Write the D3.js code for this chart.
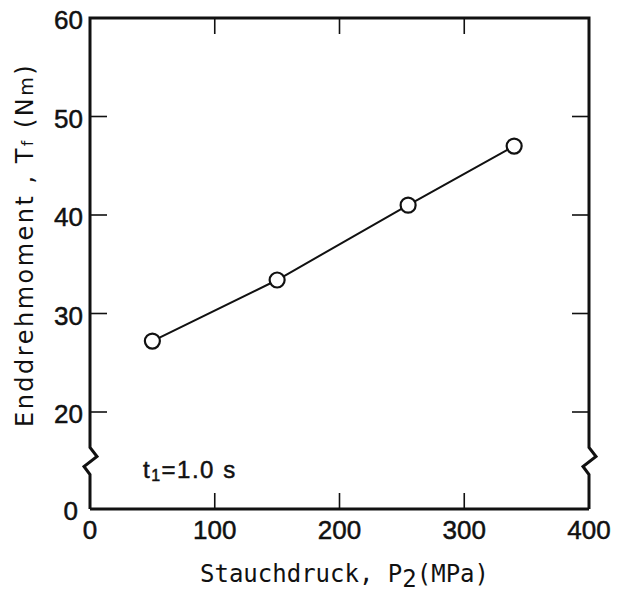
<!DOCTYPE html>
<html>
<head>
<meta charset="utf-8">
<script src="https://cdn.jsdelivr.net/npm/d3@7"></script>
<style>
  body { margin: 0; background: #fff; }
  svg { display: block; }
  text { font-family: "DejaVu Sans", sans-serif; fill: #111; }
  .num { font-family: "Liberation Sans", Arial, sans-serif; stroke: #111; stroke-width: 0.5; }
</style>
</head>
<body>
<div id="chart"></div>
<script>
// data
var pressure = [50, 150, 255, 340];        // Stauchdruck P2 (MPa)
var torque   = [27.2, 33.4, 41.0, 47.0];   // Enddrehmoment Tf (Nm)
var xTicks = [0, 100, 200, 300, 400];
var yTicks = [0, 20, 30, 40, 50, 60];

(function(){
    var W = 628, H = 597;
    var left = 90, right = 589, top = 18, bottom = 509;

    var svg = d3.select('#chart').append('svg')
        .attr('width', W)
        .attr('height', H);

    var x = d3.scaleLinear().domain([0, 400]).range([left, right]);
    // broken axis: 0..20 squeezed, 20..60 linear
    var y = d3.scaleLinear().domain([0, 20, 60]).range([bottom, 412, top]);

    var ink = '#111';

    // frame with break marks on both vertical sides
    var zz = function(x0){
        var m = y(10);
        return [[x0, y(20)], [x0, m - 13], [x0 + 7, m - 4], [x0 - 6, m + 6], [x0, m + 14], [x0, bottom]];
    };
    var line = d3.line();
    svg.append('path').attr('d', line(zz(left)))
        .attr('fill', 'none').attr('stroke', ink).attr('stroke-width', 3);
    svg.append('path').attr('d', line(zz(right)))
        .attr('fill', 'none').attr('stroke', ink).attr('stroke-width', 3);
    svg.append('path').attr('d', line([[left, y(20)], [left, top], [right, top], [right, y(20)]]))
        .attr('fill', 'none').attr('stroke', ink).attr('stroke-width', 3).attr('stroke-linejoin', 'miter');
    svg.append('path').attr('d', line([[left, bottom], [right, bottom]]))
        .attr('fill', 'none').attr('stroke', ink).attr('stroke-width', 3);

    // inward ticks
    var inner = xTicks.filter(function(d){ return d > 0 && d < 400; });
    var tk = svg.append('g').attr('stroke', ink).attr('stroke-width', 1.6);
    tk.selectAll('.xb').data(inner).enter().append('line')
        .attr('x1', function(d){ return x(d); }).attr('x2', function(d){ return x(d); })
        .attr('y1', bottom).attr('y2', bottom - 16);
    tk.selectAll('.xt').data(inner).enter().append('line')
        .attr('x1', function(d){ return x(d); }).attr('x2', function(d){ return x(d); })
        .attr('y1', top).attr('y2', top + 16);
    var yin = yTicks.filter(function(d){ return d >= 20 && d < 60; });
    tk.selectAll('.yl').data(yin).enter().append('line')
        .attr('x1', left).attr('x2', left + 17)
        .attr('y1', function(d){ return y(d); }).attr('y2', function(d){ return y(d); });
    tk.selectAll('.yr').data(yin).enter().append('line')
        .attr('x1', right).attr('x2', right - 17)
        .attr('y1', function(d){ return y(d); }).attr('y2', function(d){ return y(d); });

    // tick labels
    svg.selectAll('.xl').data(xTicks).enter().append('text')
        .attr('class', 'num')
        .attr('x', function(d){ return x(d); })
        .attr('y', bottom + 30)
        .attr('text-anchor', 'middle')
        .attr('font-size', 26)
        .text(function(d){ return d; });
    svg.selectAll('.ylab').data(yTicks).enter().append('text')
        .attr('class', 'num')
        .attr('x', function(d){ return d === 0 ? left - 12 : left - 7; })
        .attr('y', function(d){ return y(d) + 11; })
        .attr('text-anchor', 'end')
        .attr('font-size', 26)
        .text(function(d){ return d; });

    // series
    var pts = pressure.map(function(p, i){ return [x(p), y(torque[i])]; });
    svg.append('path').attr('d', line(pts))
        .attr('fill', 'none').attr('stroke', ink).attr('stroke-width', 2);
    svg.selectAll('circle').data(pts).enter().append('circle')
        .attr('cx', function(d){ return d[0]; })
        .attr('cy', function(d){ return d[1]; })
        .attr('r', 7.5)
        .attr('fill', '#fff').attr('stroke', ink).attr('stroke-width', 2.2);

    // annotation
    var t = svg.append('text').attr('class', 'num').attr('x', 143).attr('y', 478)
        .attr('font-size', 24).attr('letter-spacing', 1.5);
    t.append('tspan').text('t');
    t.append('tspan').attr('font-size', 16).attr('dy', 3).text('1');
    t.append('tspan').attr('dy', -3).text('=1.0 s');

    // axis titles
    var xt = svg.append('text').attr('x', 200).attr('y', 582)
        .style('font-family', '"DejaVu Sans Mono", monospace').attr('font-size', 24);
    xt.append('tspan').text('Stauchdruck, P');
    xt.append('tspan').attr('dy', 5).text('2');
    xt.append('tspan').attr('dy', -5).text('(MPa)');

    var yt = svg.append('text')
        .attr('transform', 'translate(33,427) rotate(-90)')
        .attr('font-size', 24).attr('letter-spacing', 2.5);
    yt.append('tspan').text('Enddrehmoment , T');
    yt.append('tspan').attr('font-size', 15).text('f');
    yt.append('tspan').text(' (N');
    yt.append('tspan').attr('font-size', 19).text('m');
    yt.append('tspan').text(')');
})();
</script>
</body>
</html>
